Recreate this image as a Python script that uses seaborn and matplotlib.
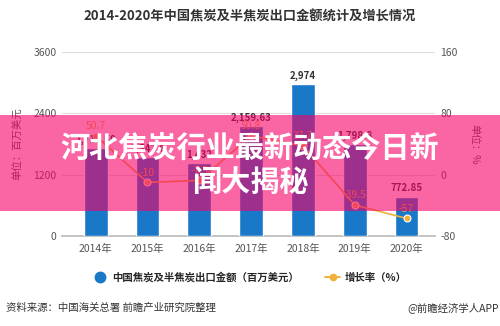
import matplotlib
matplotlib.use("Agg")
import matplotlib.pyplot as plt
import seaborn as sns
import pandas as pd
from matplotlib.patches import Rectangle
from matplotlib.lines import Line2D

years = ["2014年", "2015年", "2016年", "2017年", "2018年", "2019年", "2020年"]
export_value = [1719.59, 1547.6, 1432.0, 2159.63, 2974.0, 1798.8, 772.85]
value_labels = ["1,719.59", "1,547.6", "1,432", "2,159.63", "2,974", "1,798.8", "772.85"]
growth = [50.7, -10.0, -7.5, 50.8, 37.7, -39.5, -57.0]
growth_labels = ["50.7", "-10", "-7.5", "50.8", "37.7", "-39.5", "-57"]
left_ticks = [0, 1200, 2400, 3600]
right_ticks = [-80, 0, 80, 160]

sns.set_theme(style="white")
plt.rcParams['font.family'] = ['Noto Sans CJK SC', 'DejaVu Sans']
plt.rcParams['axes.unicode_minus'] = False

BLUE = "#1978c8"
GOLD = "#f0b13a"
GRID = "#dddddd"
TICK = "#555555"

fig = plt.figure(figsize=(5, 3.26), dpi=100)
ax = fig.add_axes([0.124, 0.276, 0.746, 0.564])

df = pd.DataFrame({"year": years, "value": export_value})
sns.barplot(data=df, x="year", y="value", color=BLUE, width=0.46, ax=ax,
            saturation=1, zorder=3)
ax.set_ylim(0, 3600)
ax.set_yticks(left_ticks)
ax.set_yticklabels([str(t) for t in left_ticks], fontsize=7.5, color=TICK)
ax.set_xlabel("")
ax.set_ylabel("单位：百万美元", fontsize=7.5, color=TICK, labelpad=2)
ax.yaxis.set_label_coords(-0.105, 0.5)
ax.grid(axis="y", color=GRID, linewidth=0.8, zorder=0)
for s in ["top", "right", "left"]:
    ax.spines[s].set_visible(False)
ax.spines["bottom"].set_color("#bbbbbb")
ax.tick_params(axis="x", labelsize=7.5, colors=TICK, length=3, color="#bbbbbb", pad=3)
ax.tick_params(axis="y", length=0, pad=4)
ax.set_xlim(-0.65, 6.55)

for i, (v, lab) in enumerate(zip(export_value, value_labels)):
    ax.text(i, v + 60, lab, ha="center", va="bottom", fontsize=7,
            fontweight="bold", color="#333333", zorder=5)

ax2 = ax.twinx()
ldf = pd.DataFrame({"x": list(range(len(years))), "g": growth})
sns.lineplot(data=ldf, x="x", y="g", ax=ax2, color=GOLD, linewidth=1.2,
             marker="o", markersize=5, markeredgecolor="white", markeredgewidth=0.8)
ax2.set_ylim(-80, 160)
ax2.set_yticks(right_ticks)
ax2.set_yticklabels([str(t) for t in right_ticks], fontsize=7.5, color=TICK)
ax2.set_ylabel("单位：%", fontsize=7.5, color=TICK, rotation=270, labelpad=10)
ax2.yaxis.set_label_coords(1.12, 0.5)
ax2.tick_params(axis="y", length=0, pad=4)
ax2.set_xlabel("")
for s in ["top", "right", "left", "bottom"]:
    ax2.spines[s].set_visible(False)
for i, (g, lab) in enumerate(zip(growth, growth_labels)):
    ax2.text(i, g + 6, lab, ha="center", va="bottom", fontsize=7.5,
             color=GOLD, zorder=6)
ax2.set_xlim(-0.65, 6.55)

fig.text(0.5, 0.948, "2014-2020年中国焦炭及半焦炭出口金额统计及增长情况",
         ha="center", va="center", fontsize=9.5, fontweight="bold", color="#333333")

# legend
handles = [
    Line2D([], [], marker="o", linestyle="none", markersize=7.5, color=BLUE),
    Line2D([], [], marker="o", color=GOLD, markersize=4.5, linewidth=1.4),
]
fig.legend(handles, ["中国焦炭及半焦炭出口金额（百万美元）", "增长率（%）"],
           loc="center", bbox_to_anchor=(0.5, 0.148), ncol=2, frameon=False,
           prop={"size": 7.5, "weight": "bold"}, handlelength=1.4,
           columnspacing=2.5, handletextpad=0.5)

fig.text(0.012, 0.055, "资料来源：中国海关总署 前瞻产业研究院整理",
         ha="left", va="center", fontsize=7.5, color="#333333")
fig.text(0.998, 0.055, "@前瞻经济学人APP", ha="right", va="center",
         fontsize=7.5, color="#333333")

# overlay banner
banner = Rectangle((0, 1 - 211 / 326), 1, 96 / 326, transform=fig.transFigure,
                   facecolor="#f70066", alpha=0.6, edgecolor="none", zorder=10)
fig.add_artist(banner)
fig.text(0.5, 1 - 148 / 326, "河北焦炭行业最新动态今日新", ha="center", va="center",
         fontsize=21, fontweight="bold", color="white", zorder=11)
fig.text(0.5, 1 - 182 / 326, "闻大揭秘", ha="center", va="center",
         fontsize=21, fontweight="bold", color="white", zorder=11)

fig.savefig("out.png", dpi=100)
